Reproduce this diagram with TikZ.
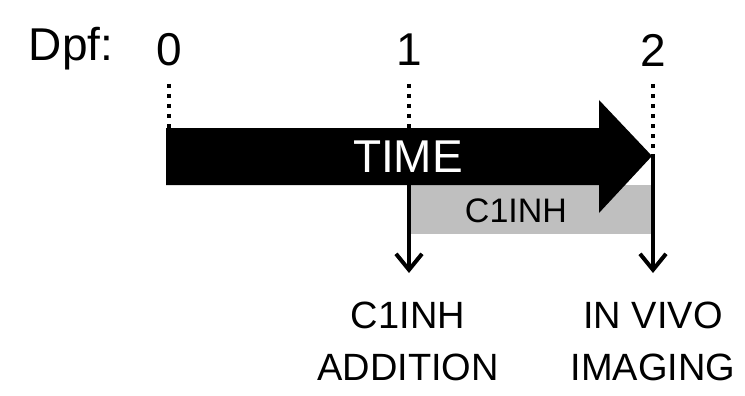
\documentclass[tikz,border=0pt]{standalone}
\usepackage{fontspec}
\setmainfont{Liberation Sans}
\usetikzlibrary{arrows.meta}
\begin{document}
\begin{tikzpicture}[x=1pt,y=-1pt,
  daylabel/.style={font=\fontsize{46}{46}\selectfont, anchor=center, inner sep=0pt},
  eventlabel/.style={font=\fontsize{38}{52}\selectfont, align=center, anchor=north, inner sep=0pt},
  tick/.style={line width=4pt, dash pattern=on 4pt off 6pt},
  eventarrow/.style={line width=4pt, -{Straight Barb[length=16pt,width=26pt,line width=4pt]}}]
  \useasboundingbox (0,0) rectangle (745,396);

  % day labels
  \node[daylabel] (dpf) at (71,49) {Dpf:};
  \node[daylabel] (d0) at (169,50) {0};
  \node[daylabel] (d1) at (409,50) {1};
  \node[daylabel] (d2) at (653,50) {2};

  % treatment window
  \fill[gray!50] (411,185) rectangle (652,234);
  \node[font=\fontsize{34}{34}\selectfont, inner sep=0pt] (inh) at (516,211) {C1INH};

  % time arrow
  \fill[black] (166,128) -- (599,128) -- (599,100) -- (652,156) -- (599,213)
    -- (599,185) -- (166,185) -- cycle;
  \coordinate (tip) at (653,156);
  \node[font=\fontsize{46}{46}\selectfont, text=white, inner sep=0pt] (time) at (408,157) {TIME};

  % dotted ticks
  \coordinate (t0) at (169,128);
  \coordinate (t1) at (409,128);
  \draw[tick] (169,84) -- (t0);
  \draw[tick] (409,84) -- (t1);
  \draw[tick] (653,84) -- (tip);

  % events
  \coordinate (e1) at (409,185);
  \node[eventlabel] (add) at (408,302) {C1INH\\ADDITION};
  \node[eventlabel] (img) at (653,302) {IN VIVO\\IMAGING};
  \draw[eventarrow] (e1) -- (409,273);
  \draw[eventarrow] (tip) -- (653,273);
\end{tikzpicture}
\end{document}
